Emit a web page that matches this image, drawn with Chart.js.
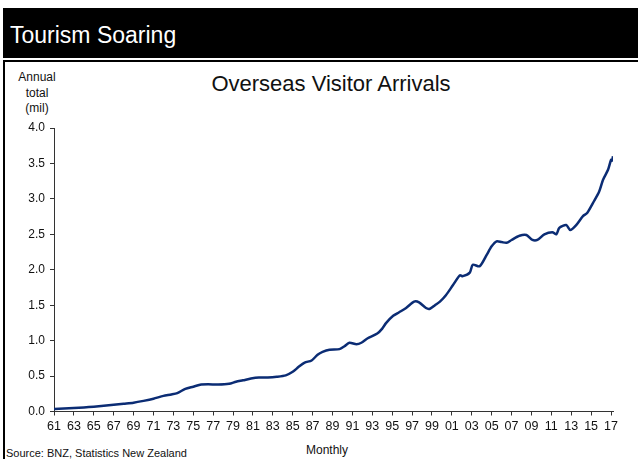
<!DOCTYPE html>
<html lang="en">

<head>
    <meta charset="UTF-8">
    <title>Tourism Soaring</title>
    <script src="https://cdn.jsdelivr.net/npm/chart.js@4.4.0/dist/chart.umd.min.js"></script>
    <style>
        html, body {
            margin: 0;
            padding: 0;
            background: #fff;
            width: 638px;
            height: 459px;
            overflow: hidden;
            font-family: "Liberation Sans", Arial, sans-serif;
            color: #111;
        }

        .faixa {
            position: absolute;
            left: 3px;
            top: 8px;
            width: 635px;
            height: 50px;
            background: #000;
        }

        .faixa h1 {
            position: absolute;
            left: 7px;
            top: 16px;
            margin: 0;
            font-weight: normal;
            font-size: 23px;
            line-height: 23px;
            color: #fff;
        }

        .moldura {
            position: absolute;
            left: 3px;
            top: 60px;
            right: 0;
            bottom: 0;
            border-left: 2px solid #000;
            border-top: 2px solid #000;
        }

        .texto {
            position: absolute;
            margin: 0;
            font-weight: normal;
            white-space: nowrap;
        }

        #grafico {
            position: absolute;
            left: 0;
            top: 0;
        }
    </style>
</head>

<body>
    <div class="faixa">
        <h1>Tourism Soaring</h1>
    </div>
    <div class="moldura"></div>

    <h2 class="texto" style="left:0; width:662px; text-align:center; top:73px; font-size:22px; line-height:22px;">Overseas Visitor Arrivals</h2>
    <div class="texto" style="left:16px; width:42px; text-align:center; top:70px; font-size:12px; line-height:15.5px;">Annual<br>total<br>(mil)</div>
    <div class="texto" style="left:300px; width:54px; text-align:center; top:443px; font-size:12px; line-height:14px;">Monthly</div>
    <div class="texto" style="left:6px; top:447px; font-size:11px; line-height:12px;">Source: BNZ, Statistics New Zealand</div>

    <canvas id="grafico" width="638" height="459"></canvas>

    <script>
        // chegadas anuais de visitantes (milhões), por ano
        const anos = [
            1961.0, 1962.0, 1963.0, 1964.0, 1965.0, 1966.0, 1967.0, 1968.0, 1969.0, 1970.0,
            1971.0, 1972.0, 1972.8, 1973.4, 1974.2, 1975.0, 1975.8, 1976.5, 1977.5, 1978.6,
            1979.3, 1980.0, 1980.8, 1981.6, 1982.5, 1983.4, 1984.3, 1985.0, 1985.6, 1986.2,
            1986.9, 1987.5, 1988.0, 1988.7, 1989.7, 1990.2, 1990.7, 1991.4, 1991.9, 1992.5,
            1993.5, 1994.0, 1994.4, 1995.1, 1995.7, 1996.4, 1997.2, 1997.7, 1998.4, 1998.8,
            1999.3, 1999.8, 2000.4, 2001.1, 2001.8, 2002.1, 2002.8, 2003.1, 2003.8, 2004.5,
            2005.0, 2005.5, 2006.0, 2006.5, 2007.0, 2007.8, 2008.5, 2009.1, 2009.6, 2010.3,
            2011.1, 2011.5, 2011.8, 2012.5, 2012.9, 2013.5, 2014.2, 2014.6, 2015.3, 2015.8,
            2016.2, 2016.7, 2017.0, 2017.1, 2017.2
        ];
        const chegadas = [
            0.035, 0.043, 0.050, 0.058, 0.068, 0.080, 0.095, 0.110, 0.125, 0.150,
            0.180, 0.220, 0.240, 0.260, 0.320, 0.350, 0.380, 0.385, 0.380, 0.390,
            0.420, 0.440, 0.465, 0.480, 0.480, 0.490, 0.510, 0.560, 0.630, 0.690,
            0.720, 0.800, 0.840, 0.870, 0.880, 0.920, 0.970, 0.950, 0.970, 1.030,
            1.100, 1.170, 1.250, 1.350, 1.400, 1.460, 1.550, 1.540, 1.460, 1.450,
            1.500, 1.550, 1.640, 1.780, 1.920, 1.910, 1.960, 2.070, 2.050, 2.210,
            2.330, 2.400, 2.390, 2.380, 2.420, 2.480, 2.490, 2.420, 2.420, 2.500,
            2.530, 2.500, 2.590, 2.630, 2.560, 2.630, 2.760, 2.800, 2.970, 3.100,
            3.270, 3.410, 3.550, 3.540, 3.600
        ];

        // marcas dos eixos
        const anosEixo = [
            1961, 1963, 1965, 1967, 1969, 1971, 1973, 1975, 1977, 1979,
            1981, 1983, 1985, 1987, 1989, 1991, 1993, 1995, 1997, 1999,
            2001, 2003, 2005, 2007, 2009, 2011, 2013, 2015, 2017
        ];
        const valoresEixo = [0, 0.5, 1, 1.5, 2, 2.5, 3, 3.5, 4];

        const corEixo = '#333';
        const fonte = 'Liberation Sans, Arial, sans-serif';

        const pontos = anos.map(function (ano, i) {
            return { x: ano, y: chegadas[i] };
        });

        const config = {
            type: 'line',
            data: {
                datasets: [{
                    label: 'Overseas Visitor Arrivals',
                    data: pontos,
                    borderColor: '#0b2c74',
                    borderWidth: 2.5,
                    pointRadius: 0,
                    tension: 0.25,
                    fill: false
                }]
            },
            options: {
                responsive: false,
                animation: false,
                layout: {
                    padding: { left: 0, top: 128, right: 25, bottom: 25.5 }
                },
                plugins: {
                    legend: { display: false },
                    tooltip: { enabled: false },
                    title: { display: false }
                },
                scales: {
                    x: {
                        type: 'linear',
                        min: 1961,
                        max: 2017.2,
                        afterBuildTicks: function (eixo) {
                            eixo.ticks = anosEixo.map(function (v) { return { value: v }; });
                        },
                        afterFit: function (eixo) { eixo.height = 22; },
                        grid: {
                            drawOnChartArea: false,
                            drawTicks: true,
                            tickLength: 4,
                            color: corEixo
                        },
                        border: { color: corEixo, width: 1 },
                        ticks: {
                            autoSkip: false,
                            maxRotation: 0,
                            padding: 4,
                            color: '#111',
                            font: { family: fonte, size: 12.5 },
                            callback: function (v) { return String(v).slice(2); }
                        }
                    },
                    y: {
                        min: 0,
                        max: 4,
                        afterBuildTicks: function (eixo) {
                            eixo.ticks = valoresEixo.map(function (v) { return { value: v }; });
                        },
                        afterFit: function (eixo) { eixo.width = 54; },
                        grid: {
                            drawOnChartArea: false,
                            drawTicks: true,
                            tickLength: 4,
                            color: corEixo
                        },
                        border: { color: corEixo, width: 1 },
                        ticks: {
                            padding: 5,
                            color: '#111',
                            font: { family: fonte, size: 12 },
                            callback: function (v) { return Number(v).toFixed(1); }
                        }
                    }
                }
            }
        };

        new Chart(document.getElementById('grafico'), config);
    </script>
</body>

</html>
